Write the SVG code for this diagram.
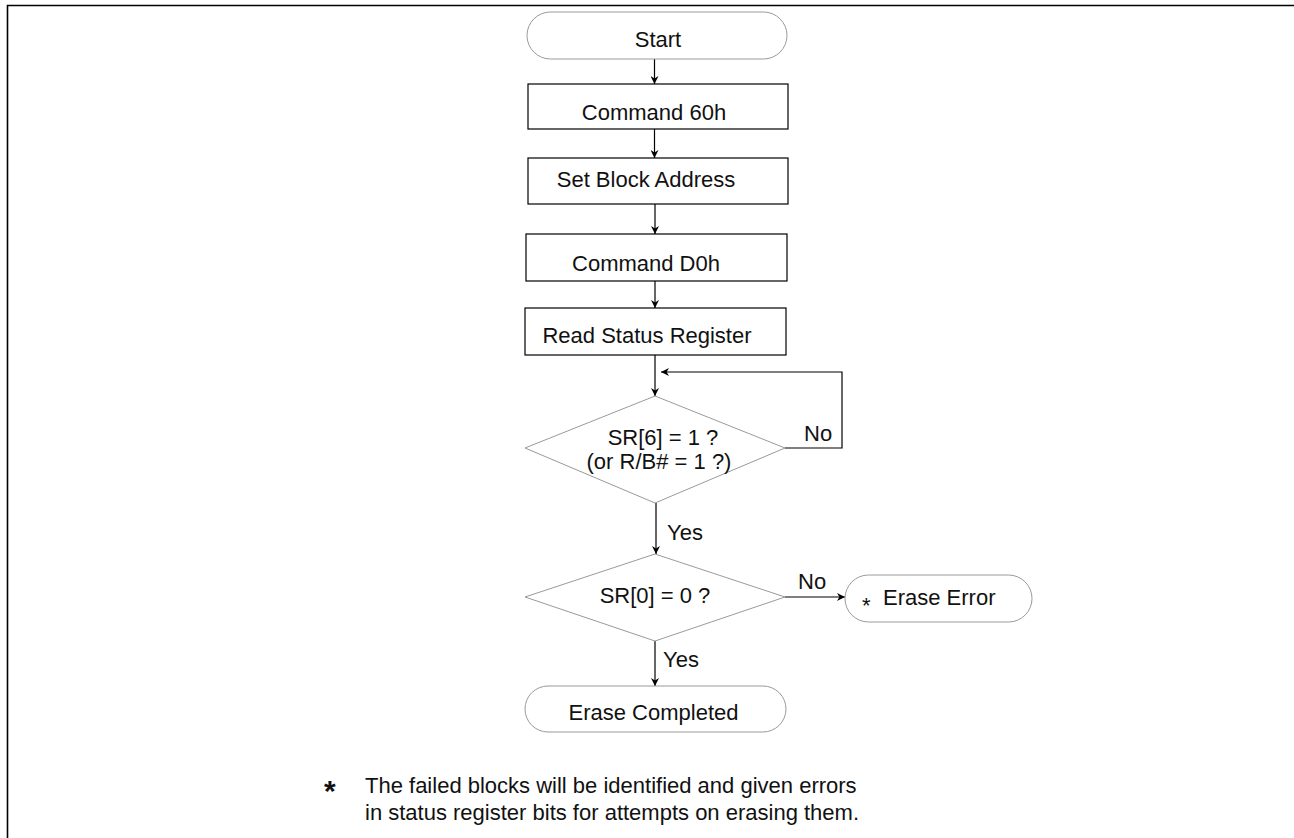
<svg xmlns="http://www.w3.org/2000/svg" width="1294" height="838" viewBox="0 0 1294 838">
<defs>
<style>
text{font-family:"Liberation Sans",Arial,sans-serif;font-size:22px;fill:#111}
.m{text-anchor:middle}
.box{fill:#fff;stroke:#000;stroke-width:1.2}
.soft{fill:#fff;stroke:#9a9a9a;stroke-width:1}
.edge{fill:none;stroke:#000;stroke-width:1.2}
</style>
<marker id="ah" viewBox="0 0 10 10" refX="10" refY="5" markerWidth="8" markerHeight="8" markerUnits="userSpaceOnUse" orient="auto">
<path d="M0,0 L10,5 L0,10 L3,5 z" fill="#000"/>
</marker>
</defs>
<rect width="1294" height="838" fill="#fff"/>
<path d="M7.5,838 V5.5 H1294" fill="none" stroke="#000" stroke-width="1.6"/>

<g id="connectors">
<path class="edge" d="M654.5,59 V84" marker-end="url(#ah)"/>
<path class="edge" d="M654.5,129 V158" marker-end="url(#ah)"/>
<path class="edge" d="M655,204 V234" marker-end="url(#ah)"/>
<path class="edge" d="M655,281 V308" marker-end="url(#ah)"/>
<path class="edge" d="M655,355 V396" marker-end="url(#ah)"/>
<path class="edge" d="M785,448 H842 V372 H661" marker-end="url(#ah)"/>
<path class="edge" d="M656,503 V554" marker-end="url(#ah)"/>
<path class="edge" d="M785,597 H845" marker-end="url(#ah)"/>
<path class="edge" d="M655,641 V686" marker-end="url(#ah)"/>
<text x="804" y="441">No</text>
<text x="667" y="540">Yes</text>
<text x="798" y="589">No</text>
<text x="663" y="667">Yes</text>
</g>

<g id="start">
<rect class="soft" x="527" y="12" width="260" height="47" rx="23.5"/>
<text class="m" x="658" y="47">Start</text>
</g>
<g id="cmd60">
<rect class="box" x="528" y="84" width="260" height="45"/>
<text class="m" x="654" y="120">Command 60h</text>
</g>
<g id="setblock">
<rect class="box" x="528" y="158" width="260" height="46"/>
<text class="m" x="646" y="187">Set Block Address</text>
</g>
<g id="cmdD0">
<rect class="box" x="526" y="234" width="261" height="47"/>
<text class="m" x="646" y="271">Command D0h</text>
</g>
<g id="readsr">
<rect class="box" x="525" y="308" width="261" height="47"/>
<text class="m" x="647" y="343">Read Status Register</text>
</g>
<g id="sr6">
<polygon class="soft" points="655,396 785,448 655,503 525,448"/>
<text class="m" x="663" y="445">SR[6] = 1 ?</text>
<text class="m" x="659" y="469">(or R/B# = 1 ?)</text>
</g>
<g id="sr0">
<polygon class="soft" points="655,554 785,597 655,641 525,597"/>
<text class="m" x="655" y="603">SR[0] = 0 ?</text>
</g>
<g id="eraseerror">
<rect class="soft" x="845" y="575" width="187" height="47" rx="23.5"/>
<text x="862" y="613">*</text>
<text x="883" y="605">Erase Error</text>
</g>
<g id="erasecompleted">
<rect class="soft" x="525" y="686" width="261" height="46" rx="23"/>
<text class="m" x="653.5" y="720">Erase Completed</text>
</g>

<g id="footnote">
<text x="324" y="801" style="font-size:30px;font-weight:bold">*</text>
<text x="365" y="793">The failed blocks will be identified and given errors</text>
<text x="365" y="820">in status register bits for attempts on erasing them.</text>
</g>
</svg>
